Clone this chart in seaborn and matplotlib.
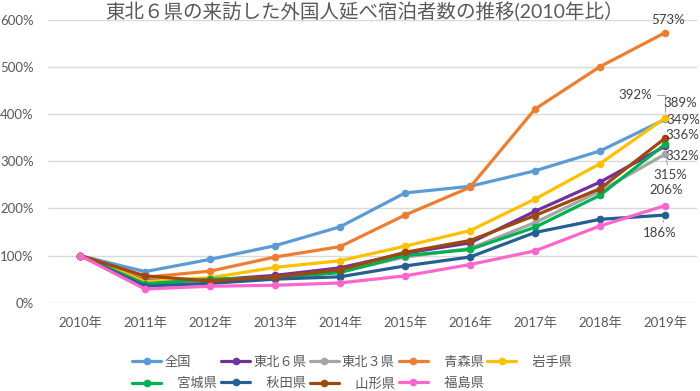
import matplotlib
matplotlib.use('Agg')
import matplotlib.pyplot as plt
import seaborn as sns
import pandas as pd

## data (2010 = 100%)
years = ['2010年', '2011年', '2012年', '2013年', '2014年',
         '2015年', '2016年', '2017年', '2018年', '2019年']
series_names = ['全国', '東北６県', '東北３県', '青森県', '岩手県',
                '宮城県', '秋田県', '山形県', '福島県']

zenkoku = [100, 66, 92, 121, 161, 233, 247, 280, 322, 389]
tohoku6 = [100, 48, 48, 58, 74, 105, 127, 194, 256, 332]
tohoku3 = [100, 40, 45, 52, 65, 97, 115, 170, 237, 315]
aomori = [100, 54, 67, 97, 119, 186, 245, 411, 501, 573]
iwate = [100, 45, 53, 75, 89, 120, 153, 220, 295, 392]
miyagi = [100, 40, 50, 53, 64, 100, 113, 160, 228, 336]
akita = [100, 35, 41, 50, 55, 78, 97, 149, 177, 186]
yamagata = [100, 57, 46, 55, 70, 107, 132, 185, 242, 349]
fukushima = [100, 29, 35, 37, 42, 57, 81, 110, 163, 206]

colors = ['#5B9BD5', '#7030A0', '#A5A5A5', '#ED7D31', '#FFC000',
          '#00B050', '#255E91', '#9E480E', '#FF66CC']

all_values = [zenkoku, tohoku6, tohoku3, aomori, iwate,
              miyagi, akita, yamagata, fukushima]

df = pd.concat([
    pd.DataFrame({'year': years, 'value': vals, 'series': name})
    for name, vals in zip(series_names, all_values)
], ignore_index=True)

## style
sns.set_theme(style='white')
plt.rcParams['font.family'] = ['Lato', 'Noto Sans CJK JP', 'DejaVu Sans']
text_gray = '#595959'

fig = plt.figure(figsize=(7, 3.91), dpi=100)
ax = fig.add_axes([0.0679, 0.2258, 0.9285, 0.723])

sns.lineplot(data=df, x='year', y='value', hue='series',
             hue_order=series_names, palette=colors,
             marker='o', markersize=5.5, markeredgewidth=0,
             linewidth=2.3, legend=False, ax=ax)

ax.set_xlim(-0.5, 9.5)
ax.set_ylim(0, 600)
ax.set_yticks(range(0, 601, 100))
ax.set_yticklabels([f'{v}%' for v in range(0, 601, 100)])
ax.set_xlabel('')
ax.set_ylabel('')
ax.grid(axis='y', color='#D9D9D9', linewidth=1)
ax.set_axisbelow(True)
for sp in ax.spines.values():
    sp.set_visible(False)
ax.tick_params(axis='both', length=0, labelsize=9.5, colors=text_gray)
ax.tick_params(axis='x', pad=10)
ax.tick_params(axis='y', pad=10)

## end-of-line labels: (series, dx, dy, leader)
label_pos = [
    ('青森県', 3, 13, None),
    ('岩手県', -30, 23, 'angle,angleA=0,angleB=90,rad=0'),
    ('全国', 15, 16, None),
    ('山形県', 18, 18, None),
    ('宮城県', 17, 9, None),
    ('東北６県', 17, -10, None),
    ('東北３県', 5, -21, 'arc3'),
    ('福島県', 1, 16, None),
    ('秋田県', -5, -18, 'arc3'),
]
for name, dx, dy, leader in label_pos:
    val = all_values[series_names.index(name)][-1]
    arrow = None
    if leader:
        arrow = dict(arrowstyle='-', color='#A6A6A6', lw=0.8,
                     shrinkA=1, shrinkB=4, connectionstyle=leader)
    ax.annotate(f'{val}%', xy=(9, val), xytext=(dx, dy),
                textcoords='offset pixels', ha='center', va='center',
                fontsize=9.5, color='#404040', arrowprops=arrow)

## title
fig.text(0.521, 0.972, '東北６県の来訪した外国人延べ宿泊者数の推移(2010年比）',
         ha='center', va='center', fontsize=14, color=text_gray)

## legend (column-major fill, so reorder to read row by row)
legend_order = ['全国', '宮城県', '東北６県', '秋田県', '東北３県',
                '山形県', '青森県', '福島県', '岩手県']
line_map = dict(zip(series_names, ax.lines[:len(series_names)]))
handles = [line_map[n] for n in legend_order]
labels = [n if len(n) != 3 else '\u3000' + n for n in legend_order]
fig.legend(handles, labels, loc='center', bbox_to_anchor=(0.5034, 0.047),
           ncol=5, frameon=False, fontsize=9.5, handlelength=2.2,
           handletextpad=0.23, columnspacing=0.28, labelspacing=0.7,
           borderpad=0, labelcolor=text_gray)

fig.savefig('out.png', dpi=100)
